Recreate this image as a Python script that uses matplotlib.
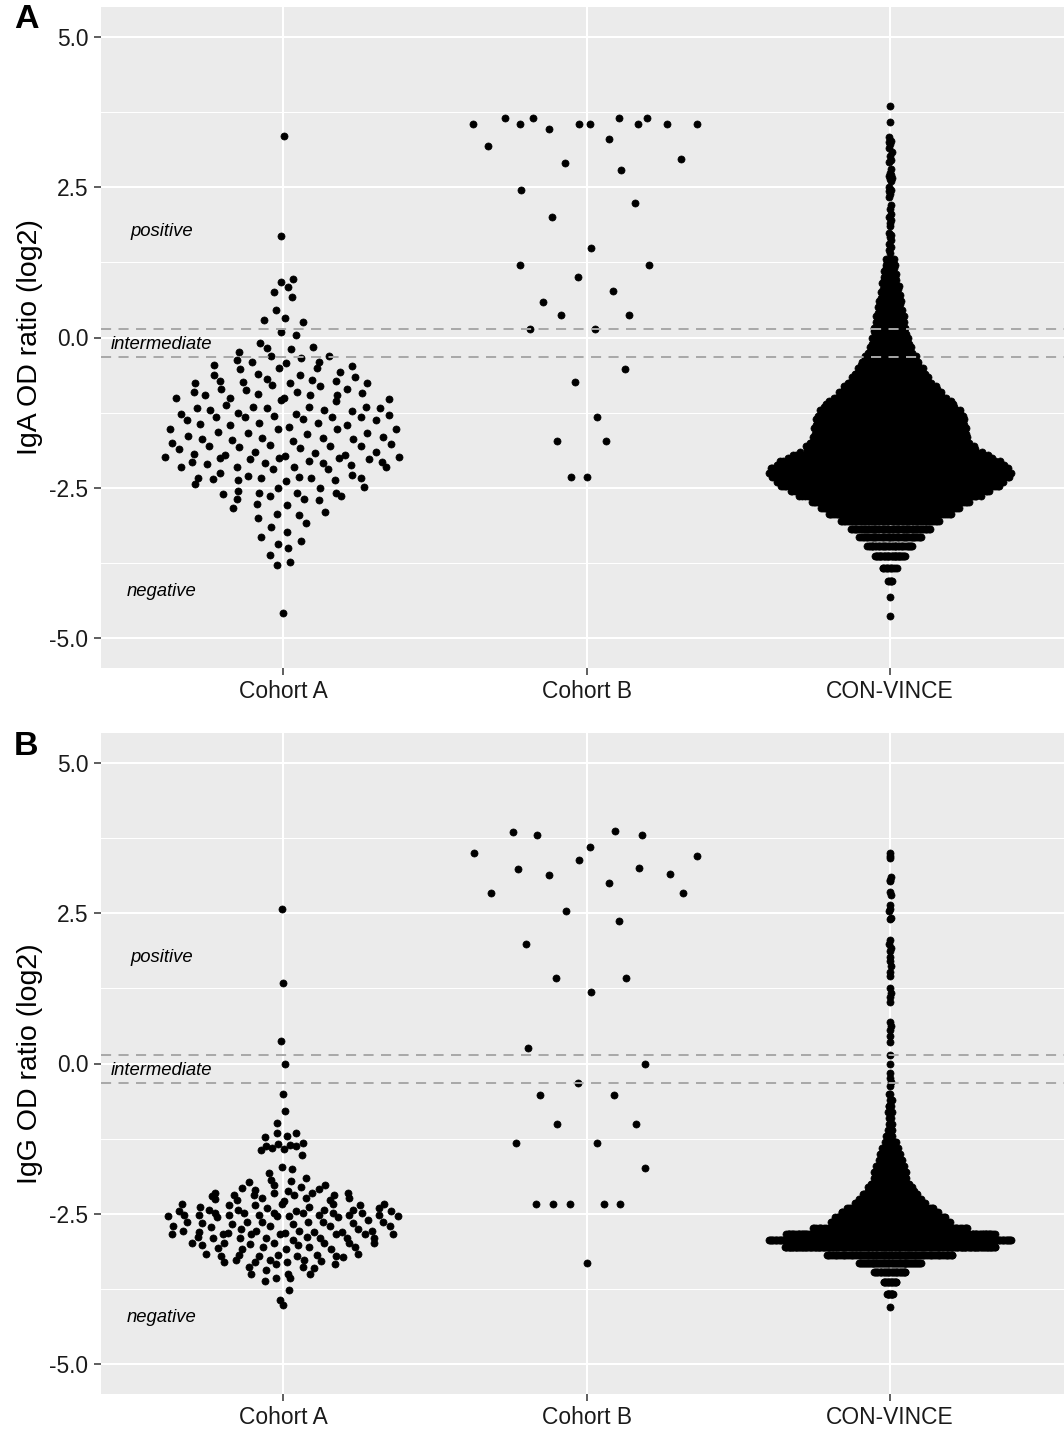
import numpy as np
import matplotlib
matplotlib.use('Agg')
import matplotlib.pyplot as plt

plt.rcParams['font.family'] = ['Liberation Sans', 'DejaVu Sans']

# ---------------- data ----------------
groups = ['Cohort A', 'Cohort B', 'CON-VINCE']
yticks = [-5.0, -2.5, 0.0, 2.5, 5.0]
ytick_labels = ['-5.0', '-2.5', '0.0', '2.5', '5.0']
yticks_minor = [-3.75, -1.25, 1.25, 3.75]
cutoffs_od = [1.1, 0.8]          # positive / negative OD-ratio cut-offs
region_labels = ['positive', 'intermediate', 'negative']
region_label_y = [1.77, -0.12, -4.22]

# Panel A (IgA)
cohA_iga = [3.35, 1.69, 0.97, 0.92, 0.84, 0.76, 0.67, 0.45, 0.29, 0.32, 0.26, 0.09, 0.04,
            -0.09, -0.18, -0.19, -0.15, -0.24, -0.31, -0.34, -0.31, -0.38, -0.41, -0.42, -0.40,
            -0.46, -0.52, -0.50, -0.51, -0.47, -0.60, -0.62, -0.57, -0.62, -0.65, -0.72, -0.69,
            -0.70, -0.75, -0.74, -0.75, -0.73, -0.76, -0.85, -0.80, -0.79, -0.85, -0.91, -0.87,
            -0.91, -0.95, -0.96, -0.93, -0.96, -0.94, -1.01, -1.00, -1.04, -1.00, -1.06, -1.02,
            -1.12, -1.17, -1.21, -1.16, -1.18, -1.16, -1.20, -1.22, -1.16, -1.18, -1.28, -1.32,
            -1.26, -1.33, -1.31, -1.28, -1.36, -1.32, -1.32, -1.29, -1.37, -1.43, -1.43, -1.44,
            -1.45, -1.38, -1.46, -1.53, -1.53, -1.49, -1.53, -1.53, -1.59, -1.59, -1.61, -1.58,
            -1.64, -1.68, -1.71, -1.67, -1.73, -1.69, -1.69, -1.66, -1.75, -1.80, -1.83, -1.79,
            -1.84, -1.80, -1.80, -1.77, -1.86, -1.94, -1.96, -2.00, -1.91, -2.00, -1.98, -1.93,
            -2.00, -1.96, -1.91, -2.02, -1.99, -1.99, -2.15, -2.07, -2.10, -2.15, -2.03, -2.09,
            -2.19, -2.15, -2.05, -2.09, -2.19, -2.12, -2.08, -2.15, -2.33, -2.26, -2.36, -2.44,
            -2.37, -2.30, -2.33, -2.39, -2.32, -2.33, -2.37, -2.28, -2.33, -2.48, -2.50, -2.51,
            -2.61, -2.55, -2.58, -2.64, -2.59, -2.68, -2.58, -2.64, -2.68, -2.83, -2.77, -2.79,
            -2.71, -2.90, -3.01, -2.94, -2.96, -3.08, -3.15, -3.24, -3.32, -3.44, -3.51, -3.39,
            -3.62, -3.78, -3.74, -4.58]
cohB_iga = [3.55, 3.65, 3.55, 3.65, 3.47, 3.55, 3.55, 3.65, 3.55, 3.65, 3.55, 3.55, 3.19,
            3.31, 2.91, 2.97, 2.79, 2.46, 2.23, 2.00, 1.49, 1.20, 1.20, 1.01, 0.77, 0.59, 0.38,
            0.38, 0.14, 0.14, -0.52, -0.74, -1.33, -1.73, -1.73, -2.32, -2.32]
cv_iga_levels = [-4.64, -4.32, -4.06, -3.84, -3.64, -3.47, -3.32, -3.18, -3.06,
                 -2.94, -2.84, -2.74, -2.64, -2.56, -2.47, -2.40, -2.32, -2.25, -2.18, -2.12,
                 -2.06, -2.00,
                 -1.95, -1.90, -1.85, -1.80, -1.75, -1.70, -1.65, -1.60, -1.55, -1.50,
                 -1.45, -1.40, -1.35, -1.30, -1.25, -1.20, -1.15, -1.10, -1.05, -1.00,
                 -0.95, -0.90, -0.85, -0.80, -0.75, -0.70, -0.65, -0.60, -0.55, -0.50,
                 -0.45, -0.40, -0.35, -0.30, -0.25, -0.20, -0.15, -0.10, -0.05, 0.00,
                 0.05, 0.10, 0.15, 0.20, 0.25, 0.30, 0.35, 0.40, 0.45, 0.50,
                 0.55, 0.60, 0.65, 0.70, 0.75, 0.80, 0.85, 0.90, 0.95, 1.00,
                 1.05, 1.10, 1.15, 1.20, 1.25, 1.30]
cv_iga_counts = [1, 1, 5, 11, 36, 36, 45, 56, 62,
                 78, 77, 77, 87, 95, 101, 104, 98, 98, 92, 90,
                 81, 70,
                 41, 41, 42, 42, 43, 43, 42, 42, 41, 39,
                 42, 42, 43, 43, 42, 41, 38, 36, 34, 31,
                 29, 28, 27, 25, 22, 21, 20, 20, 18, 18,
                 17, 17, 15, 14, 13, 11, 11, 10, 10, 10,
                 10, 8, 10, 8, 8, 8, 8, 7, 7, 7,
                 7, 6, 6, 6, 6, 4, 6, 4, 4, 4,
                 4, 3, 4, 3, 4, 3]
cv_iga_high = [1.40, 1.45, 1.51, 1.55, 1.62, 1.68, 1.70, 1.74, 1.86, 1.90, 1.95, 2.00, 2.06,
               2.14, 2.20, 2.34, 2.38, 2.44, 2.45, 2.50, 2.60, 2.63, 2.65, 2.68, 2.70, 2.74,
               2.80, 2.92, 2.96, 3.02, 3.08, 3.15, 3.22, 3.25, 3.27, 3.33, 3.58, 3.86]

# Panel B (IgG)
cohA_igg = [2.57, 1.34, 0.38, 0.00, -0.51, -0.79, -0.99, -1.20, -1.16, -1.16, -1.22, -1.36,
            -1.38, -1.33, -1.41, -1.34, -1.38, -1.42, -1.44, -1.53, -1.76, -1.73, -1.83, -1.90,
            -1.94, -1.96, -2.02, -2.05, -2.02, -1.97, -2.09, -2.10, -2.08, -2.13, -2.16, -2.19,
            -2.19, -2.19, -2.15, -2.16, -2.15, -2.19, -2.23, -2.27, -2.26, -2.23, -2.24, -2.20,
            -2.27, -2.33, -2.34, -2.35, -2.33, -2.35, -2.33, -2.35, -2.29, -2.44, -2.46, -2.41,
            -2.44, -2.46, -2.38, -2.44, -2.44, -2.41, -2.38, -2.48, -2.52, -2.54, -2.54, -2.52,
            -2.54, -2.48, -2.52, -2.54, -2.48, -2.55, -2.48, -2.52, -2.55, -2.48, -2.52, -2.52,
            -2.46, -2.52, -2.48, -2.60, -2.72, -2.67, -2.70, -2.63, -2.70, -2.64, -2.67, -2.63,
            -2.70, -2.63, -2.66, -2.63, -2.70, -2.63, -2.66, -2.83, -2.80, -2.82, -2.78, -2.83,
            -2.80, -2.83, -2.76, -2.83, -2.83, -2.78, -2.83, -2.78, -2.82, -2.78, -2.80, -2.76,
            -2.83, -2.91, -2.90, -2.89, -2.93, -2.91, -2.90, -2.91, -2.90, -2.89, -2.98, -2.98,
            -3.02, -2.98, -3.01, -2.98, -2.98, -2.98, -3.06, -3.02, -3.06, -3.07, -3.08, -3.09,
            -3.06, -3.17, -3.09, -3.20, -3.18, -3.20, -3.17, -3.20, -3.22, -3.19, -3.20, -3.19,
            -3.30, -3.27, -3.28, -3.27, -3.31, -3.34, -3.31, -3.34, -3.27, -3.38, -3.41, -3.38,
            -3.43, -3.50, -3.51, -3.51, -3.57, -3.57, -3.62, -3.77, -3.94, -4.02]
cohB_igg = [3.85, 3.80, 3.87, 3.81, 3.51, 3.61, 3.39, 3.46, 3.23, 3.26, 3.14, 3.15, 3.01,
            2.84, 2.84, 2.54, 2.37, 1.99, 1.43, 1.43, 1.19, 0.25, -0.01, -0.33, -0.52, -0.52,
            -1.01, -1.01, -1.33, -1.33, -1.74, -2.33, -2.33, -2.33, -2.33, -2.33, -3.32]
cv_igg_levels = [-4.06, -3.84, -3.64, -3.47, -3.32, -3.18, -3.06, -2.94, -2.84, -2.74,
                 -2.64, -2.56, -2.47, -2.40, -2.32, -2.25, -2.18, -2.12, -2.06, -2.00,
                 -1.90, -1.80, -1.70, -1.60, -1.50, -1.40, -1.30, -1.20, -1.10, -1.00,
                 -0.90, -0.80, -0.70, -0.60, -0.50]
cv_igg_counts = [1, 10, 16, 32, 66, 82, 225, 215, 168, 88,
                 76, 70, 60, 48, 36, 32, 26, 23, 20, 18,
                 26, 25, 21, 18, 15, 13, 9, 5, 4, 3,
                 2, 3, 4, 3, 2]
cv_igg_high = [-0.37, -0.30, -0.24, -0.16, 0.00, 0.14, 0.36, 0.45, 0.55, 0.62, 0.69, 1.03,
               1.10, 1.18, 1.25, 1.46, 1.52, 1.62, 1.70, 1.77, 1.87, 1.92, 1.99, 2.05, 2.40,
               2.42, 2.53, 2.57, 2.63, 2.80, 2.86, 3.03, 3.06, 3.10, 3.42, 3.46, 3.50]


# ------------- quasirandom (ggbeeswarm/vipor style) offsets -------------
def van_der_corput(n, base=2):
    out = np.zeros(n)
    for i in range(1, n + 1):
        v, denom, k = 0.0, 1.0, i
        while k > 0:
            denom *= base
            k, rem = divmod(k, base)
            v += rem / denom
        out[i - 1] = v
    return out


def quasirandom_offsets(y, width=0.4, nbins=1024):
    y = np.asarray(y, float)
    n = len(y)
    if n < 2:
        return np.zeros(n)
    sd = y.std(ddof=1)
    q75, q25 = np.percentile(y, [75, 25])
    lo = min(sd, (q75 - q25) / 1.34)
    if lo <= 0:
        lo = sd if sd > 0 else 1.0
    bw = 0.9 * lo * n ** -0.2
    grid = np.linspace(y.min() - 3 * bw, y.max() + 3 * bw, nbins)
    dens = np.exp(-0.5 * ((grid[:, None] - y[None, :]) / bw) ** 2).sum(axis=1)
    dens = dens / dens.max()
    off = np.interp(y, grid, dens)
    order = np.argsort(y, kind='stable')
    rank = np.empty(n, dtype=int)
    rank[order] = np.arange(n)
    q = van_der_corput(n)[rank]
    return off * (q - 0.5) * 2 * width


# ---------------- figure ----------------
W, H = 1064, 1429
fig = plt.figure(figsize=(W / 100, H / 100), dpi=100)


def rect(left, top, right, bottom):
    return [left / W, 1 - bottom / H, (right - left) / W, (bottom - top) / H]


panels = [
    dict(box=(101, 7, 1064, 668), label='A', label_y=20, title='IgA OD ratio (log2)',
         data=[cohA_iga, cohB_iga,
               list(np.repeat(cv_iga_levels, cv_iga_counts)) + cv_iga_high]),
    dict(box=(101, 733, 1064, 1394), label='B', label_y=747, title='IgG OD ratio (log2)',
         data=[cohA_igg, cohB_igg,
               list(np.repeat(cv_igg_levels, cv_igg_counts)) + cv_igg_high]),
]

unit_px = 303.5
for p in panels:
    l, t, r, b = p['box']
    ax = fig.add_axes(rect(l, t, r, b))
    ax.set_facecolor('#EBEBEB')
    ax.set_xlim(0.4, 0.4 + (r - l) / unit_px)
    ax.set_ylim(-5.5, 5.5)
    for s in ax.spines.values():
        s.set_visible(False)
    ax.set_xticks([1, 2, 3])
    ax.set_xticklabels(groups)
    ax.set_yticks(yticks)
    ax.set_yticklabels(ytick_labels)
    ax.set_yticks(yticks_minor, minor=True)
    ax.tick_params(axis='both', which='major', length=5, width=1.1, color='#333333',
                   labelsize=16.4, labelcolor='#1A1A1A', pad=4)
    ax.tick_params(axis='y', which='minor', length=0)
    ax.set_axisbelow(True)
    ax.grid(which='major', color='white', linewidth=1.5)
    ax.grid(which='minor', axis='y', color='white', linewidth=0.75)

    for gi, vals in enumerate(p['data']):
        yv = np.asarray(vals, float)
        xv = gi + 1 + quasirandom_offsets(yv)
        ax.scatter(xv, yv, s=26, c='black', edgecolors='black', linewidths=0.5, zorder=2)

    for od in cutoffs_od:
        ax.axhline(np.log2(od), color='#A8A8A8', linewidth=1.4,
                   linestyle=(0, (5.2, 3.8)), zorder=3)

    for txt, yy in zip(region_labels, region_label_y):
        ax.text(0.6, yy, txt, style='italic', fontsize=13.3, ha='center', va='center',
                color='black', zorder=4)

    fig.text(30 / W, 1 - ((t + b) / 2) / H, p['title'], rotation=90, ha='center',
             va='center', fontsize=20.5, color='black')
    fig.text(26 / W, 1 - p['label_y'] / H, p['label'], fontsize=24.5, fontweight='bold',
             ha='center', va='center', color='black')

fig.savefig('out.png', dpi=100)
